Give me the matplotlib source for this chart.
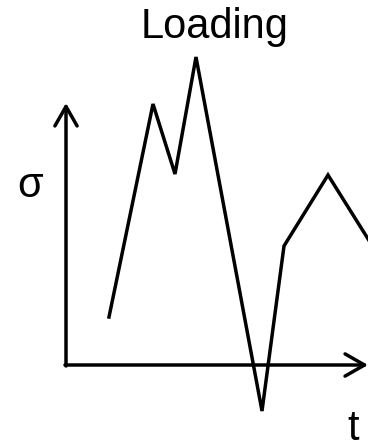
import matplotlib
matplotlib.use('Agg')
import matplotlib.pyplot as plt

#--loading history (arbitrary units, origin at the axes corner)
t     = [43, 87, 109, 130, 196, 218, 262, 314]
sigma = [48, 261, 191, 308, -46, 119, 190, 107]

plt.rcParams['font.family'] = ['Liberation Sans', 'DejaVu Sans']

fig = plt.figure(figsize=(3.68, 4.43), dpi=100)
ax = fig.add_axes([0, 0, 1, 1])
ax.set_xlim(-66, 302)
ax.set_ylim(-78, 365)
ax.axis('off')

lw = 2.5
arrow = dict(arrowstyle='->,head_length=14,head_width=8', mutation_scale=1,
             lw=lw, color='k', shrinkA=0, shrinkB=0)
ax.annotate('', xy=(0, 262), xytext=(0, -1), arrowprops=arrow)
ax.annotate('', xy=(302, 0), xytext=(-1, 0), arrowprops=arrow)

ax.plot(t, sigma, color='k', lw=lw, solid_joinstyle='miter')

ax.text(149, 327, 'Loading', fontsize=30, ha='center', va='baseline')
ax.text(-36, 168, 'σ', fontsize=30, ha='center', va='baseline')
ax.text(287, -75, 't', fontsize=30, ha='center', va='baseline')

fig.savefig('out.png', dpi=100)
